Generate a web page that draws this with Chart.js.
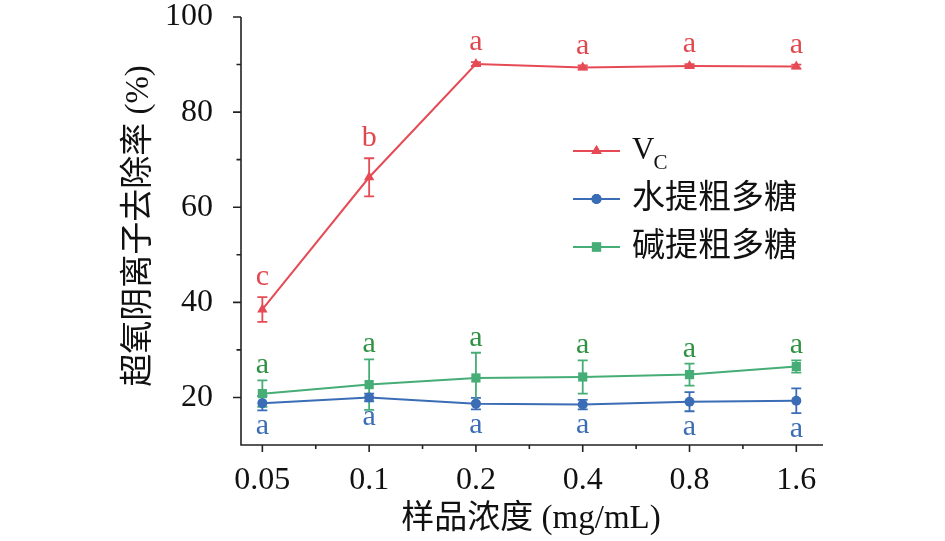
<!DOCTYPE html>
<html><head><meta charset="utf-8">
<script src="https://cdn.jsdelivr.net/npm/chart.js@4/dist/chart.umd.min.js"></script>
<style>html,body{margin:0;padding:0;background:#fff;} #c{display:block;}</style>
</head><body>
<canvas id="c" width="945" height="541"></canvas>
<script>
const categories = ['0.05', '0.1', '0.2', '0.4', '0.8', '1.6'];
const seriesNames = ['VC', '水提粗多糖', '碱提粗多糖'];
const vcValues = [38.5, 66.3, 90.1, 89.4, 89.7, 89.6];
const vcErrors = [2.6, 4.0, 0.4, 0.4, 0.4, 0.4];
const vcLetters = ['c', 'b', 'a', 'a', 'a', 'a'];
const waterValues = [18.8, 20.0, 18.7, 18.5, 19.1, 19.3];
const waterErrors = [1.5, 0.8, 1.2, 1.0, 2.0, 2.6];
const waterLetters = ['a', 'a', 'a', 'a', 'a', 'a'];
const alkaliValues = [20.8, 22.7, 24.1, 24.3, 24.8, 26.5];
const alkaliErrors = [2.8, 5.3, 5.3, 3.5, 2.3, 1.3];
const alkaliLetters = ['a', 'a', 'a', 'a', 'a', 'a'];
const yTicks = [20, 40, 60, 80, 100];
const yMinorTicks = [30, 50, 70, 90];
const xTitle = '样品浓度 (mg/mL)';
const yTitle = '超氧阴离子去除率 (%)';

const FONT = '"Liberation Serif", "Noto Sans CJK SC", serif';
const AXIS_COLOR = '#222';

const seriesStyle = [
  {color: '#E64B55', text: '#E0474F', point: 'triangle', radius: 6, letterPos: 'above', off: 12},
  {color: '#3A6DB5', text: '#3A6DB5', point: 'circle', radius: 5, letterPos: 'below', off: 24},
  {color: '#45AD75', text: '#2F9142', point: 'rect', radius: 6.5, letterPos: 'above', off: 7}
];
const allValues = [vcValues, waterValues, alkaliValues];
const allErrors = [vcErrors, waterErrors, alkaliErrors];
const allLetters = [vcLetters, waterLetters, alkaliLetters];

const datasets = allValues.map((vals, k) => ({
  label: seriesNames[k],
  data: vals.map((v, i) => ({x: i, y: v})),
  borderColor: seriesStyle[k].color,
  backgroundColor: seriesStyle[k].color,
  pointBackgroundColor: seriesStyle[k].color,
  pointBorderColor: seriesStyle[k].color,
  pointStyle: seriesStyle[k].point,
  pointRadius: seriesStyle[k].radius,
  pointBorderWidth: 0,
  borderWidth: 2,
  tension: 0,
  errors: allErrors[k],
  letters: allLetters[k]
}));

const customPlugin = {
  id: 'custom',
  beforeDatasetsDraw(chart) {
    const ctx = chart.ctx;
    const xs = chart.scales.x, ys = chart.scales.y;
    chart.data.datasets.forEach((ds, k) => {
      ctx.save();
      ctx.strokeStyle = seriesStyle[k].color;
      ctx.lineWidth = 1.8;
      ds.data.forEach((p, i) => {
        const e = ds.errors[i];
        const px = xs.getPixelForValue(p.x);
        const top = ys.getPixelForValue(p.y + e);
        const bot = ys.getPixelForValue(p.y - e);
        ctx.beginPath();
        ctx.moveTo(px, top); ctx.lineTo(px, bot);
        ctx.moveTo(px - 5, top); ctx.lineTo(px + 5, top);
        ctx.moveTo(px - 5, bot); ctx.lineTo(px + 5, bot);
        ctx.stroke();
      });
      ctx.restore();
    });
  },
  afterDraw(chart) {
    const ctx = chart.ctx;
    const xs = chart.scales.x, ys = chart.scales.y;
    const area = chart.chartArea;
    ctx.save();
    ctx.strokeStyle = AXIS_COLOR;
    ctx.lineWidth = 1.6;
    ctx.beginPath();
    ctx.moveTo(area.left, ys.getPixelForValue(ys.max));
    ctx.lineTo(area.left, area.bottom);
    ctx.lineTo(area.right, area.bottom);
    yTicks.forEach(v => { const py = ys.getPixelForValue(v); ctx.moveTo(area.left, py); ctx.lineTo(area.left - 8, py); });
    yMinorTicks.forEach(v => { const py = ys.getPixelForValue(v); ctx.moveTo(area.left, py); ctx.lineTo(area.left - 4.5, py); });
    categories.forEach((c, i) => { const px = xs.getPixelForValue(i); ctx.moveTo(px, area.bottom); ctx.lineTo(px, area.bottom + 7); });
    for (let i = 0; i < categories.length - 1; i++) {
      const px = xs.getPixelForValue(i + 0.5); ctx.moveTo(px, area.bottom); ctx.lineTo(px, area.bottom + 4);
    }
    ctx.stroke();

    ctx.font = '30px ' + FONT;
    ctx.textAlign = 'center';
    ctx.textBaseline = 'alphabetic';
    chart.data.datasets.forEach((ds, k) => {
      ctx.fillStyle = seriesStyle[k].text;
      ds.data.forEach((p, i) => {
        const px = xs.getPixelForValue(p.x);
        const e = ds.errors[i];
        let py;
        if (seriesStyle[k].letterPos === 'above') py = ys.getPixelForValue(p.y + e) - seriesStyle[k].off;
        else py = ys.getPixelForValue(p.y - e) + seriesStyle[k].off;
        ctx.fillText(ds.letters[i], px, py);
      });
    });

    const lx0 = 573, lx1 = 620, rows = [151, 199, 247];
    chart.data.datasets.forEach((ds, k) => {
      const y = rows[k];
      ctx.strokeStyle = seriesStyle[k].color;
      ctx.lineWidth = 2;
      ctx.beginPath(); ctx.moveTo(lx0, y); ctx.lineTo(lx1, y); ctx.stroke();
      ctx.fillStyle = seriesStyle[k].color;
      Chart.helpers.drawPoint(ctx, {pointStyle: seriesStyle[k].point, radius: seriesStyle[k].radius, rotation: 0, borderWidth: 0}, (lx0 + lx1) / 2, y);
      ctx.fill();
      ctx.fillStyle = '#111';
      ctx.textAlign = 'left';
      if (k === 0) {
        ctx.textBaseline = 'alphabetic';
        ctx.font = '31px ' + FONT;
        ctx.fillText('V', 632, 159);
        const w = ctx.measureText('V').width;
        ctx.font = '21px ' + FONT;
        ctx.fillText('C', 632 + w - 1, 169);
      } else {
        ctx.textBaseline = 'middle';
        ctx.font = '33px ' + FONT;
        ctx.fillText(ds.label, 632, y);
      }
    });

    ctx.fillStyle = '#111';
    ctx.font = '33px ' + FONT;
    ctx.textAlign = 'center';
    ctx.textBaseline = 'middle';
    ctx.fillText(xTitle, 531, 519);
    ctx.save();
    ctx.translate(139, 226);
    ctx.rotate(-Math.PI / 2);
    ctx.fillText(yTitle, 0, 0);
    ctx.restore();
    ctx.restore();
  }
};

new Chart(document.getElementById('c'), {
  type: 'line',
  data: {datasets},
  options: {
    responsive: false,
    animation: false,
    devicePixelRatio: 1,
    layout: {padding: {top: 17, right: 122, bottom: 0, left: 0}},
    plugins: {legend: {display: false}, tooltip: {enabled: false}},
    scales: {
      x: {
        type: 'linear', min: -0.2, max: 5.25,
        afterBuildTicks: s => { s.ticks = categories.map((c, i) => ({value: i})); },
        afterFit: s => { s.height = 96; s.paddingLeft = 0; s.paddingRight = 0; },
        ticks: {callback: v => categories[v], color: '#111', font: {family: FONT, size: 32}, padding: 8, maxRotation: 0, autoSkip: false},
        grid: {display: false},
        border: {display: false}
      },
      y: {
        type: 'linear', min: 10, max: 100,
        afterBuildTicks: s => { s.ticks = yTicks.map(v => ({value: v})); },
        afterFit: s => { s.width = 241; s.paddingTop = 0; s.paddingBottom = 0; },
        ticks: {color: '#111', font: {family: FONT, size: 32}, padding: 20},
        grid: {display: false},
        border: {display: false}
      }
    }
  },
  plugins: [customPlugin]
});
</script>
</body></html>
